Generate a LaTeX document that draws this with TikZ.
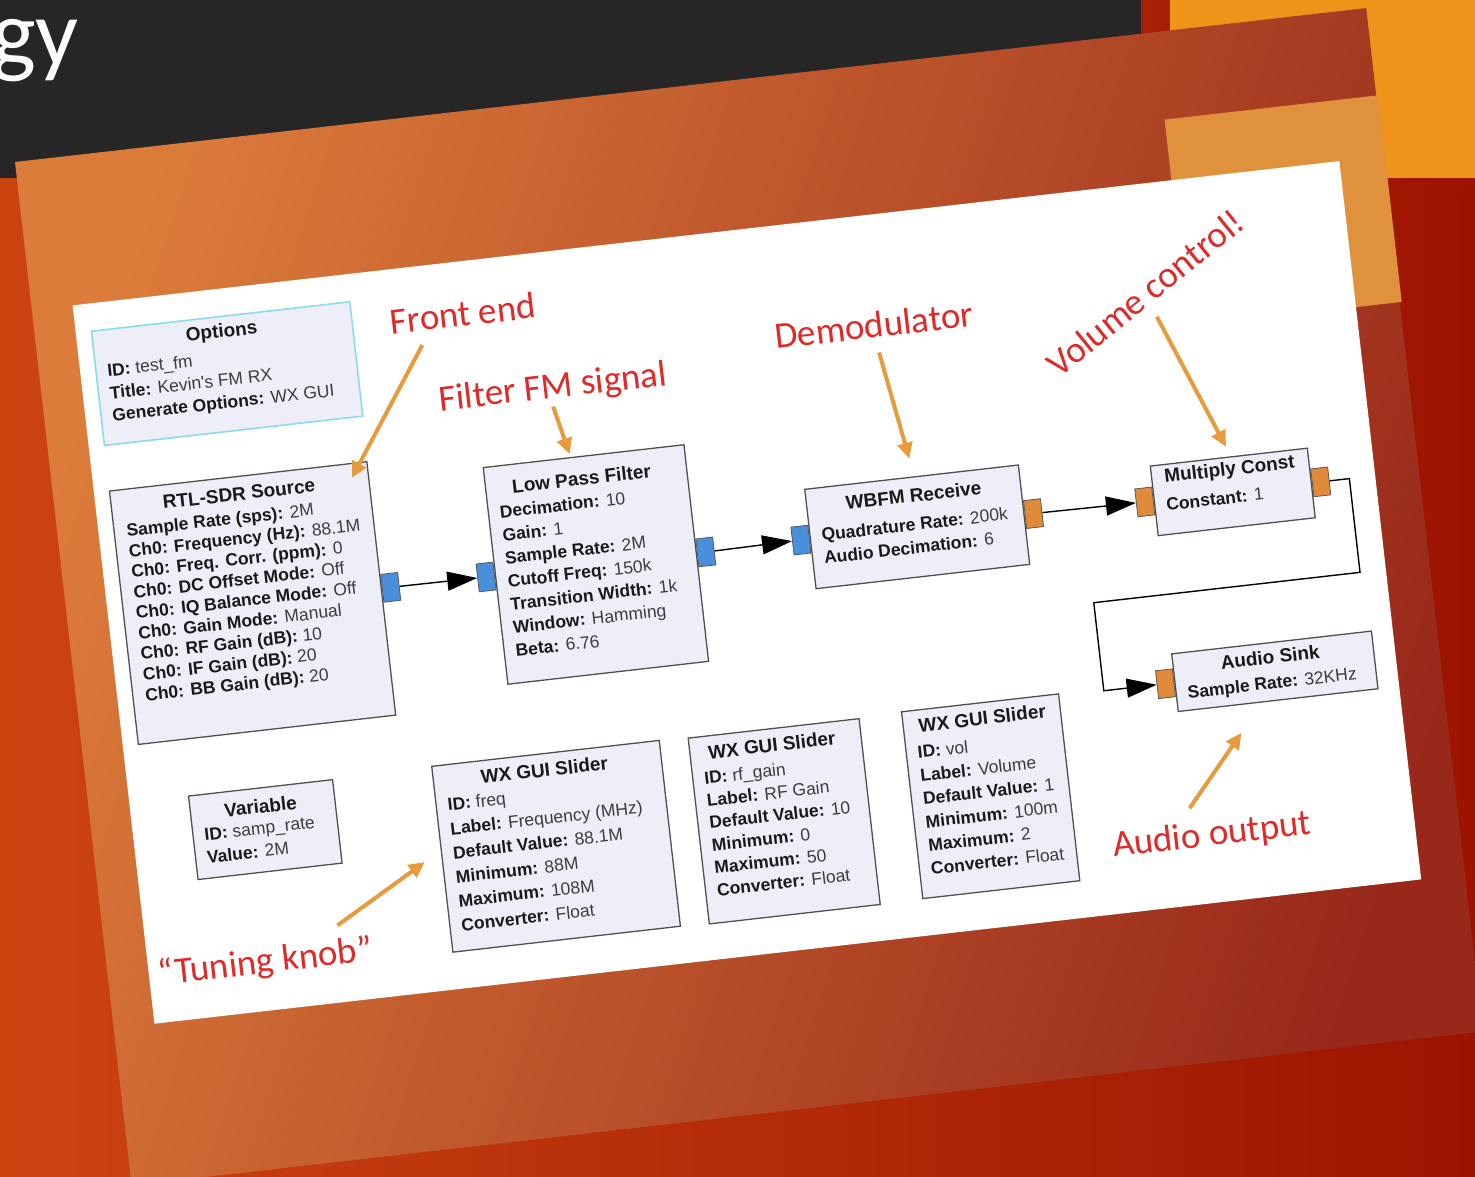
\documentclass[tikz,border=0pt]{standalone}
\usepackage{fontspec}
\newfontfamily\gf{Liberation Sans}
\newfontfamily\cf{Carlito}
\usetikzlibrary{arrows.meta}
\definecolor{band}{HTML}{262626}
\definecolor{topor}{HTML}{EF9419}
\definecolor{bgL}{HTML}{CC4410}
\definecolor{bgR}{HTML}{9C1400}
\definecolor{cardL}{HTML}{DC7C3A}
\definecolor{cardR}{HTML}{98281A}
\definecolor{lightor}{HTML}{E0913B}
\definecolor{boxfill}{HTML}{EEEEF8}
\definecolor{boxline}{HTML}{505050}
\definecolor{optline}{HTML}{8ADCEA}
\definecolor{portblue}{HTML}{4A8FDB}
\definecolor{portor}{HTML}{E08A3A}
\definecolor{annred}{HTML}{DE2A28}
\definecolor{annor}{HTML}{E89B3C}
\definecolor{valc}{HTML}{3C3C3C}
\newcommand\kvp[2]{\textbf{#1:} \textcolor{valc}{#2}}
\tikzset{
  blk/.style={draw=boxline, fill=boxfill, line width=1.3pt, inner sep=0, anchor=north west},
  optblk/.style={blk, draw=optline, line width=1.6pt},
  ttl/.style={font=\gf\bfseries\fontsize{19}{22}\selectfont, text=black!90, inner sep=0},
  body/.style={font={\gf\fontsize{17.5}{#1}\selectfont}, align=left, anchor=north west, inner sep=0, text=black!90},
  port/.style={draw=black!65, line width=0.8pt, minimum width=17pt, minimum height=28pt, inner sep=0},
  bin/.style={port, fill=portblue, anchor=east},
  bout/.style={port, fill=portblue, anchor=west},
  oin/.style={port, fill=portor, anchor=east},
  oout/.style={port, fill=portor, anchor=west},
  conn/.style={line width=1.4pt, -{Triangle[length=30pt,width=19pt]}},
  ann/.style={font=\cf\fontsize{37}{40}\selectfont, text=annred, inner sep=0},
  annarr/.style={draw=annor, line width=4pt, -{Triangle[length=16pt,width=15pt]}}
}
\begin{document}
\begin{tikzpicture}[x=1pt, y=-1pt]
\useasboundingbox (0,0) rectangle (1475,1176);
\clip (0,0) rectangle (1475,1176);
% slide background
\fill[left color=bgL, right color=bgR] (0,0) rectangle (1475,1176);
\fill[band] (0,0) rectangle (1141,178);
\fill[topor] (1170,0) rectangle (1475,178);
\node[anchor=base west, text=white, font=\cf\fontsize{95}{100}\selectfont, inner sep=0] (gy) at (-9,65) {gy};
% tilted card
\begin{scope}[shift={(15,162)}, rotate=6.5, transform shape]
  \shade[shading=axis, top color=cardL, bottom color=cardR, shading angle=72] (0,0) rectangle (1360,1030);
  \fill[lightor] (1147,88) rectangle (1362,296);
  \begin{scope}[shift={(41,149)}]
    \fill[white] (0,0) rectangle (1275,723);
    % Options
    \node[optblk, minimum width=260pt, minimum height=115pt] (opt) at (15,27) {};
    \node[ttl] (optT) at (145,44) {Options};
    \node[body=22.5] (optB) at (27,62) {\kvp{ID}{test\_fm}\\ \kvp{Title}{Kevin's FM RX}\\ \kvp{Generate Options}{WX GUI}};
    % RTL-SDR Source
    \node[blk, minimum width=259pt, minimum height=255pt] (rtl) at (15,188) {};
    \node[ttl] (rtlT) at (144,206) {RTL-SDR Source};
    \node[body=20.7] (rtlB) at (28,223) {\kvp{Sample Rate (sps)}{2M}\\ \kvp{Ch0: Frequency (Hz)}{88.1M}\\ \kvp{Ch0: Freq. Corr. (ppm)}{0}\\ \kvp{Ch0: DC Offset Mode}{Off}\\ \kvp{Ch0: IQ Balance Mode}{Off}\\ \kvp{Ch0: Gain Mode}{Manual}\\ \kvp{Ch0: RF Gain (dB)}{10}\\ \kvp{Ch0: IF Gain (dB)}{20}\\ \kvp{Ch0: BB Gain (dB)}{20}};
    \node[bout] (rtlO) at (rtl.east) {};
    % Low Pass Filter
    \node[blk, minimum width=202pt, minimum height=218pt] (lpf) at (389,207) {};
    \node[ttl] (lpfT) at (486,229.5) {Low Pass Filter};
    \node[body=23.2] (lpfB) at (401,247) {\kvp{Decimation}{10}\\ \kvp{Gain}{1}\\ \kvp{Sample Rate}{2M}\\ \kvp{Cutoff Freq}{150k}\\ \kvp{Transition Width}{1k}\\ \kvp{Window}{Hamming}\\ \kvp{Beta}{6.76}};
    \node[bin] (lpfI) at (lpf.west) {};
    \node[bout] (lpfO) at (lpf.east) {};
    % WBFM Receive
    \node[blk, minimum width=215pt, minimum height=100pt] (wb) at (706,265) {};
    \node[ttl] (wbT) at (814,284) {WBFM Receive};
    \node[body=23.2] (wbB) at (718,306) {\kvp{Quadrature Rate}{200k}\\ \kvp{Audio Decimation}{6}};
    \node[bin] (wbI) at (wb.west) {};
    \node[oout] (wbO) at (wb.east) {};
    % Multiply Const
    \node[blk, minimum width=158pt, minimum height=70pt] (mc) at (1052,281) {};
    \node[ttl] (mcT) at (1131,295) {Multiply Const};
    \node[body=23] (mcB) at (1064,315.5) {\kvp{Constant}{1}};
    \node[oin] (mcI) at (mc.west) {};
    \node[oout] (mcO) at (mc.east) {};
    % Audio Sink
    \node[blk, minimum width=201pt, minimum height=58pt] (as) at (1052,470) {};
    \node[ttl] (asT) at (1150,485) {Audio Sink};
    \node[body=23] (asB) at (1064,504) {\kvp{Sample Rate}{32KHz}};
    \node[oin] (asI) at (as.west) {};
    % Variable
    \node[blk, minimum width=145pt, minimum height=84pt] (var) at (59,500) {};
    \node[ttl] (varT) at (130,519) {Variable};
    \node[body=23] (varB) at (71,534.5) {\kvp{ID}{samp\_rate}\\ \kvp{Value}{2M}};
    % WX GUI Slider freq
    \node[blk, minimum width=229pt, minimum height=187pt] (sf) at (304,498) {};
    \node[ttl] (sfT) at (416,515) {WX GUI Slider};
    \node[body=24.2] (sfB) at (316,532) {\kvp{ID}{freq}\\ \kvp{Label}{Frequency (MHz)}\\ \kvp{Default Value}{88.1M}\\ \kvp{Minimum}{88M}\\ \kvp{Maximum}{108M}\\ \kvp{Converter}{Float}};
    % WX GUI Slider rf_gain
    \node[blk, minimum width=172pt, minimum height=187pt] (sr) at (562,499) {};
    \node[ttl] (srT) at (645,516) {WX GUI Slider};
    \node[body=22.5] (srB) at (574,534.5) {\kvp{ID}{rf\_gain}\\ \kvp{Label}{RF Gain}\\ \kvp{Default Value}{10}\\ \kvp{Minimum}{0}\\ \kvp{Maximum}{50}\\ \kvp{Converter}{Float}};
    % WX GUI Slider vol
    \node[blk, minimum width=158pt, minimum height=188pt] (sv) at (777,497) {};
    \node[ttl] (svT) at (857,513) {WX GUI Slider};
    \node[body=23.4] (svB) at (789,533) {\kvp{ID}{vol}\\ \kvp{Label}{Volume}\\ \kvp{Default Value}{1}\\ \kvp{Minimum}{100m}\\ \kvp{Maximum}{2}\\ \kvp{Converter}{Float}};
    % connections
    \coordinate (c1) at (1249,411);
    \coordinate (c2) at (981,411);
    \draw[conn] (rtlO.east) -- (lpfI.west);
    \draw[conn] (lpfO.east) -- (wbI.west);
    \draw[conn] (wbO.east) -- (mcI.west);
    \draw[conn] (mcO.east) -| (c1) -- (c2) |- (asI.west);
    % annotations
    \node[ann] (aFront) at (387,52) {Front end};
    \node[ann] (aFilt) at (468,137) {Filter FM signal};
    \node[ann] (aDemod) at (794,110) {Demodulator};
    \node[ann, rotate=32.5] (aVol) at (1067,109) {Volume control!};
    \node[ann] (aAudio) at (1072,656) {Audio output};
    \node[ann] (aTune) at (117,675) {“Tuning knob”};
    \coordinate (fA) at (343,79);   \coordinate (fB) at (258,203);
    \coordinate (lA) at (466,155);  \coordinate (lB) at (477,204);
    \coordinate (dA) at (796,138);  \coordinate (dB) at (814,247);
    \coordinate (vA) at (1076,134); \coordinate (vB) at (1130,271);
    \coordinate (oA) at (1053,626); \coordinate (oB) at (1113,557);
    \coordinate (tA) at (193,646);  \coordinate (tB) at (287,593);
    \draw[annarr] (fA) -- (fB);
    \draw[annarr] (lA) -- (lB);
    \draw[annarr] (dA) -- (dB);
    \draw[annarr] (vA) -- (vB);
    \draw[annarr] (oA) -- (oB);
    \draw[annarr] (tA) -- (tB);
  \end{scope}
\end{scope}
\end{tikzpicture}
\end{document}
